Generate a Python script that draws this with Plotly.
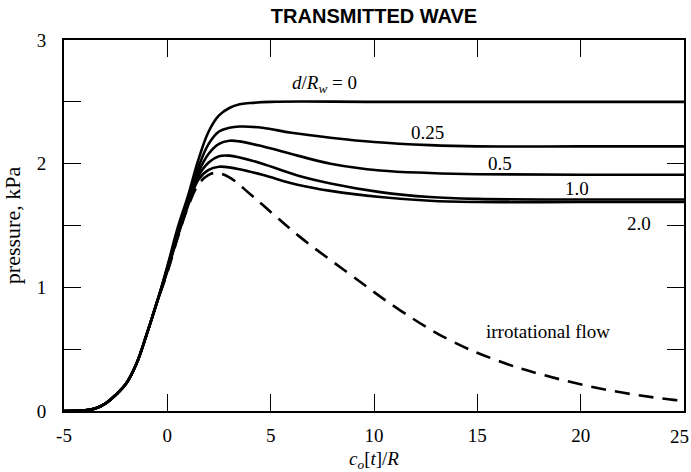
import plotly.graph_objects as go

# ---- data ----
rise_x = [-5, -4, -3.5, -3, -2.5, -2, -1.5, -1, -0.5]
rise_y = [0, 0.005, 0.02, 0.06, 0.13, 0.22, 0.38, 0.62, 0.88]

d0_x = [0, 0.5, 1, 1.5, 2, 2.5, 3, 3.5, 4, 5, 10, 15, 20, 25]
d0_y = [1.17, 1.48, 1.74, 2.03, 2.26, 2.39, 2.45, 2.48, 2.49, 2.50, 2.50, 2.50, 2.50, 2.50]

d025_x = [0, 0.5, 1, 1.5, 2, 2.5, 3, 3.5, 4.6, 6, 7.9, 10, 12.7, 15, 20, 25]
d025_y = [1.16, 1.46, 1.72, 1.97, 2.16, 2.26, 2.29, 2.30, 2.29, 2.25, 2.21, 2.175, 2.15, 2.14, 2.14, 2.14]

tail_x = [0, 0.5, 1, 1.5, 2, 2.5, 3, 3.5, 4.6, 6.3, 7.9, 10.3, 12.7, 15, 20, 25]
d05_y = [1.15, 1.44, 1.70, 1.93, 2.08, 2.16, 2.185, 2.18, 2.14, 2.065, 2.0, 1.945, 1.925, 1.915, 1.91, 1.91]
d1_y = [1.14, 1.42, 1.68, 1.90, 2.01, 2.06, 2.065, 2.05, 2.0, 1.905, 1.84, 1.77, 1.73, 1.715, 1.71, 1.71]
d2_y = [1.13, 1.41, 1.66, 1.87, 1.95, 1.975, 1.97, 1.955, 1.91, 1.83, 1.78, 1.73, 1.70, 1.69, 1.69, 1.69]

irr_x = [0, 0.5, 1, 1.5, 2, 2.4, 3, 4, 5, 6.4, 8.8, 11.3, 13.7, 16.1, 18, 21.3, 24.5, 25]
irr_y = [1.12, 1.40, 1.65, 1.83, 1.91, 1.925, 1.89, 1.755, 1.61, 1.41, 1.11, 0.81, 0.57, 0.40, 0.30, 0.17, 0.09, 0.085]

curve_labels = ["<i>d</i>/<i>R<sub>w</sub></i> = 0", "0.25", "0.5", "1.0", "2.0", "irrotational flow"]
label_x = [7.6, 12.6, 16.1, 19.8, 22.8, 18.4]
label_y = [2.645, 2.25, 2.0, 1.80, 1.52, 0.64]

x_ticks = [-5, 0, 5, 10, 15, 20, 25]
y_ticks = [0, 1, 2, 3]

# ---- figure ----
fig = go.Figure()
black = "#000000"
serif = "Liberation Serif"

fig.add_trace(go.Scatter(x=rise_x + irr_x, y=rise_y + irr_y, mode="lines",
                         line=dict(color=black, width=2.6, dash="15px,9px", shape="spline", smoothing=1.1),
                         hoverinfo="skip", showlegend=False))
for xs, ys in [(tail_x, d2_y), (tail_x, d1_y), (tail_x, d05_y), (d025_x, d025_y), (d0_x, d0_y)]:
    fig.add_trace(go.Scatter(x=rise_x + xs, y=rise_y + ys, mode="lines",
                             line=dict(color=black, width=2.6, shape="spline", smoothing=1.1),
                             hoverinfo="skip", showlegend=False))

for t, lx, ly in zip(curve_labels, label_x, label_y):
    fig.add_annotation(x=lx, y=ly, text=t, showarrow=False,
                       font=dict(family=serif, size=19, color=black),
                       xanchor="center", yanchor="middle")

# last x tick label sits at the right edge: drawn as an annotation kept inside the page
inner_x_ticks = x_ticks[:-1]
fig.add_annotation(x=x_ticks[-1], y=0, xref="x", yref="paper", text=str(x_ticks[-1]),
                   showarrow=False, xanchor="right", yanchor="top", xshift=7, yshift=-13,
                   font=dict(family=serif, size=19, color=black))

fig.update_layout(
    width=691, height=472,
    margin=dict(l=64, r=7, t=40, b=61, autoexpand=False),
    paper_bgcolor="white", plot_bgcolor="white",
    title=dict(text="<b>TRANSMITTED WAVE</b>", x=0.5, xref="paper", y=1 - 16 / 472, yref="container",
               xanchor="center", yanchor="middle",
               font=dict(family="Liberation Sans", size=20, color=black)),
    xaxis=dict(range=[-5, 25], tickvals=inner_x_ticks, ticktext=[str(v) for v in inner_x_ticks],
               ticks="inside", ticklen=17, tickwidth=1.3, tickcolor=black,
               showline=True, linecolor=black, linewidth=2, mirror="ticks",
               showgrid=False, zeroline=False, ticklabelstandoff=6,
               ticklabeloverflow="allow", automargin=False,
               tickfont=dict(family=serif, size=19, color=black),
               title=dict(text="<i>c<sub>o</sub></i>[<i>t</i>]/<i>R</i>", standoff=10,
                          font=dict(family=serif, size=19, color=black))),
    yaxis=dict(range=[0, 3], tickvals=y_ticks, ticktext=[str(v) for v in y_ticks],
               ticks="inside", ticklen=17, tickwidth=1.3, tickcolor=black,
               minor=dict(dtick=0.5, tick0=0, ticks="inside", ticklen=17, tickwidth=1.3,
                          tickcolor=black, showgrid=False),
               showline=True, linecolor=black, linewidth=2, mirror="ticks",
               showgrid=False, zeroline=False, ticklabelstandoff=12,
               ticklabeloverflow="allow", automargin=False,
               tickfont=dict(family=serif, size=19, color=black),
               title=dict(text="pressure, kPa", standoff=10,
                          font=dict(family=serif, size=22, color=black))),
)

fig.write_html("out.html")
